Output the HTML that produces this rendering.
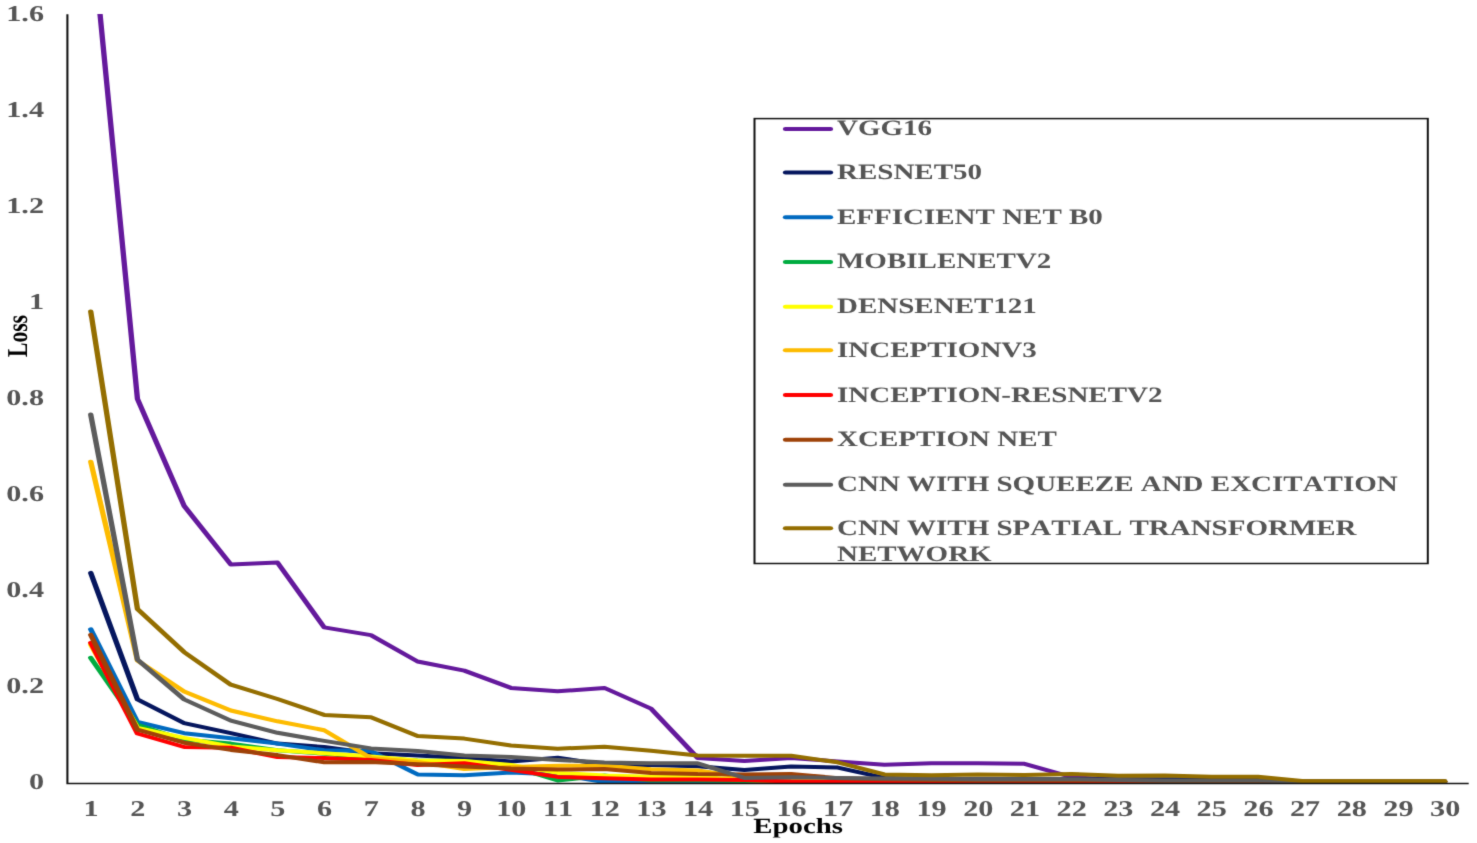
<!DOCTYPE html>
<html><head><meta charset="utf-8"><style>
html,body{margin:0;padding:0;background:#fff;}
svg{display:block;}
text{font-family:"Liberation Serif",serif;font-weight:bold;font-kerning:none;text-rendering:geometricPrecision;}
</style></head><body>
<svg width="1477" height="843" viewBox="0 0 1477 843">
<filter id="bl" x="0" y="0" width="1477" height="843" filterUnits="userSpaceOnUse" color-interpolation-filters="sRGB"><feConvolveMatrix order="3" kernelMatrix="0.0144 0.0912 0.0144 0.0912 0.5776 0.0912 0.0144 0.0912 0.0144" edgeMode="duplicate"/></filter>
<rect width="1477" height="843" fill="#fff"/>
<g filter="url(#bl)">

<text transform="translate(44.0,789.06) scale(1.337,1)" text-anchor="end" font-size="22.6" fill="#555555">0</text>
<text transform="translate(44.0,693.01) scale(1.337,1)" text-anchor="end" font-size="22.6" fill="#555555">0.2</text>
<text transform="translate(44.0,596.96) scale(1.337,1)" text-anchor="end" font-size="22.6" fill="#555555">0.4</text>
<text transform="translate(44.0,500.91) scale(1.337,1)" text-anchor="end" font-size="22.6" fill="#555555">0.6</text>
<text transform="translate(44.0,404.86) scale(1.337,1)" text-anchor="end" font-size="22.6" fill="#555555">0.8</text>
<text transform="translate(44.0,308.81) scale(1.337,1)" text-anchor="end" font-size="22.6" fill="#555555">1</text>
<text transform="translate(44.0,212.76) scale(1.337,1)" text-anchor="end" font-size="22.6" fill="#555555">1.2</text>
<text transform="translate(44.0,116.71) scale(1.337,1)" text-anchor="end" font-size="22.6" fill="#555555">1.4</text>
<text transform="translate(44.0,20.66) scale(1.337,1)" text-anchor="end" font-size="22.6" fill="#555555">1.6</text>
<text transform="translate(91.15,815.8) scale(1.337,1)" text-anchor="middle" font-size="22.6" fill="#555555">1</text>
<text transform="translate(137.84,815.8) scale(1.337,1)" text-anchor="middle" font-size="22.6" fill="#555555">2</text>
<text transform="translate(184.53,815.8) scale(1.337,1)" text-anchor="middle" font-size="22.6" fill="#555555">3</text>
<text transform="translate(231.22,815.8) scale(1.337,1)" text-anchor="middle" font-size="22.6" fill="#555555">4</text>
<text transform="translate(277.90,815.8) scale(1.337,1)" text-anchor="middle" font-size="22.6" fill="#555555">5</text>
<text transform="translate(324.59,815.8) scale(1.337,1)" text-anchor="middle" font-size="22.6" fill="#555555">6</text>
<text transform="translate(371.28,815.8) scale(1.337,1)" text-anchor="middle" font-size="22.6" fill="#555555">7</text>
<text transform="translate(417.97,815.8) scale(1.337,1)" text-anchor="middle" font-size="22.6" fill="#555555">8</text>
<text transform="translate(464.66,815.8) scale(1.337,1)" text-anchor="middle" font-size="22.6" fill="#555555">9</text>
<text transform="translate(511.35,815.8) scale(1.337,1)" text-anchor="middle" font-size="22.6" fill="#555555">10</text>
<text transform="translate(558.04,815.8) scale(1.337,1)" text-anchor="middle" font-size="22.6" fill="#555555">11</text>
<text transform="translate(604.73,815.8) scale(1.337,1)" text-anchor="middle" font-size="22.6" fill="#555555">12</text>
<text transform="translate(651.42,815.8) scale(1.337,1)" text-anchor="middle" font-size="22.6" fill="#555555">13</text>
<text transform="translate(698.11,815.8) scale(1.337,1)" text-anchor="middle" font-size="22.6" fill="#555555">14</text>
<text transform="translate(744.80,815.8) scale(1.337,1)" text-anchor="middle" font-size="22.6" fill="#555555">15</text>
<text transform="translate(791.49,815.8) scale(1.337,1)" text-anchor="middle" font-size="22.6" fill="#555555">16</text>
<text transform="translate(838.18,815.8) scale(1.337,1)" text-anchor="middle" font-size="22.6" fill="#555555">17</text>
<text transform="translate(884.87,815.8) scale(1.337,1)" text-anchor="middle" font-size="22.6" fill="#555555">18</text>
<text transform="translate(931.56,815.8) scale(1.337,1)" text-anchor="middle" font-size="22.6" fill="#555555">19</text>
<text transform="translate(978.25,815.8) scale(1.337,1)" text-anchor="middle" font-size="22.6" fill="#555555">20</text>
<text transform="translate(1024.95,815.8) scale(1.337,1)" text-anchor="middle" font-size="22.6" fill="#555555">21</text>
<text transform="translate(1071.63,815.8) scale(1.337,1)" text-anchor="middle" font-size="22.6" fill="#555555">22</text>
<text transform="translate(1118.33,815.8) scale(1.337,1)" text-anchor="middle" font-size="22.6" fill="#555555">23</text>
<text transform="translate(1165.02,815.8) scale(1.337,1)" text-anchor="middle" font-size="22.6" fill="#555555">24</text>
<text transform="translate(1211.71,815.8) scale(1.337,1)" text-anchor="middle" font-size="22.6" fill="#555555">25</text>
<text transform="translate(1258.40,815.8) scale(1.337,1)" text-anchor="middle" font-size="22.6" fill="#555555">26</text>
<text transform="translate(1305.09,815.8) scale(1.337,1)" text-anchor="middle" font-size="22.6" fill="#555555">27</text>
<text transform="translate(1351.78,815.8) scale(1.337,1)" text-anchor="middle" font-size="22.6" fill="#555555">28</text>
<text transform="translate(1398.47,815.8) scale(1.337,1)" text-anchor="middle" font-size="22.6" fill="#555555">29</text>
<text transform="translate(1445.16,815.8) scale(1.337,1)" text-anchor="middle" font-size="22.6" fill="#555555">30</text>
<text transform="translate(798.2,833) scale(1.335,1)" text-anchor="middle" font-size="21.6" fill="#000">Epochs</text>
<text transform="translate(27.2,336) rotate(-90) scale(1,1.335)" text-anchor="middle" font-size="21.6" fill="#000">Loss</text>
<g transform="scale(1.335,1)">
<defs><clipPath id="pa"><rect x="50.187" y="14.1" width="1050.187" height="772"/></clipPath></defs>
<g clip-path="url(#pa)" fill="none" stroke-width="4.0" stroke-linejoin="round" stroke-linecap="round">
<polyline stroke="#64199C" points="67.97,-81.5 102.95,398.8 137.92,505.9 172.90,564.5 207.87,562.6 242.84,627.4 277.82,635.1 312.79,661.5 347.76,670.6 382.74,687.9 417.71,691.3 452.69,687.9 487.66,708.6 522.63,758.0 557.61,760.9 592.58,758.0 627.55,761.4 662.53,764.8 697.50,763.3 732.48,763.3 767.45,763.8 802.42,777.0 837.40,780.1 872.37,780.6 907.34,781.1 942.32,781.1 977.29,781.6 1012.27,781.6 1047.24,781.6 1082.21,781.6"/>
<polyline stroke="#05165E" points="67.97,572.9 102.95,699.4 137.92,723.1 172.90,733.1 207.87,743.6 242.84,747.0 277.82,753.2 312.79,755.6 347.76,758.0 382.74,761.6 417.71,757.7 452.69,764.8 487.66,765.0 522.63,766.2 557.61,770.0 592.58,766.4 627.55,767.6 662.53,777.9 697.50,779.2 732.48,779.2 767.45,779.2 802.42,779.2 837.40,779.2 872.37,779.3 907.34,779.3 942.32,779.3 977.29,781.6 1012.27,781.6 1047.24,781.6 1082.21,781.6"/>
<polyline stroke="#006AC0" points="67.97,629.3 102.95,722.0 137.92,733.2 172.90,738.3 207.87,743.6 242.84,750.3 277.82,751.1 312.79,774.4 347.76,775.3 382.74,772.4 417.71,774.5 452.69,782.0 487.66,782.0 522.63,782.0 557.61,782.0 592.58,782.0 627.55,782.0 662.53,782.0 697.50,782.0 732.48,782.0 767.45,782.0 802.42,782.0 837.40,782.0 872.37,782.0 907.34,782.0 942.32,782.0 977.29,782.0 1012.27,782.0 1047.24,782.0 1082.21,782.0"/>
<polyline stroke="#00AC40" points="67.97,657.8 102.95,724.9 137.92,739.8 172.90,743.6 207.87,750.3 242.84,753.7 277.82,758.0 312.79,760.4 347.76,760.9 382.74,766.2 417.71,780.5 452.69,775.6 487.66,780.6 522.63,780.6 557.61,781.1 592.58,781.6 627.55,781.6 662.53,781.6 697.50,781.6 732.48,781.6 767.45,781.6 802.42,781.6 837.40,781.6 872.37,781.6 907.34,781.6 942.32,781.6 977.29,781.6 1012.27,781.6 1047.24,781.6 1082.21,781.6"/>
<polyline stroke="#FFFF00" points="67.97,644.7 102.95,727.8 137.92,737.9 172.90,746.5 207.87,750.3 242.84,753.2 277.82,756.6 312.79,760.4 347.76,760.9 382.74,765.0 417.71,772.9 452.69,775.6 487.66,776.8 522.63,776.8 557.61,780.1 592.58,781.1 627.55,781.6 662.53,781.6 697.50,781.6 732.48,781.6 767.45,781.6 802.42,781.6 837.40,781.6 872.37,781.6 907.34,781.6 942.32,781.6 977.29,781.6 1012.27,781.6 1047.24,781.6 1082.21,781.6"/>
<polyline stroke="#FDBB00" points="67.97,461.7 102.95,660.5 137.92,691.5 172.90,710.5 207.87,721.3 242.84,730.2 277.82,758.0 312.79,761.9 347.76,769.1 382.74,767.0 417.71,765.8 452.69,765.8 487.66,769.3 522.63,770.5 557.61,777.2 592.58,778.7 627.55,780.6 662.53,781.1 697.50,781.6 732.48,781.6 767.45,781.6 802.42,781.6 837.40,781.6 872.37,781.6 907.34,781.6 942.32,781.6 977.29,781.6 1012.27,781.6 1047.24,781.6 1082.21,781.6"/>
<polyline stroke="#FF0000" points="67.97,642.8 102.95,733.5 137.92,747.0 172.90,747.7 207.87,757.1 242.84,758.0 277.82,759.9 312.79,765.0 347.76,763.3 382.74,769.7 417.71,776.9 452.69,778.3 487.66,779.6 522.63,779.4 557.61,779.9 592.58,781.6 627.55,782.0 662.53,782.0 697.50,782.0 732.48,782.0 767.45,782.0 802.42,782.0 837.40,782.0 872.37,782.0 907.34,782.0 942.32,782.0 977.29,782.0 1012.27,782.0 1047.24,782.0 1082.21,782.0"/>
<polyline stroke="#9E4208" points="67.97,634.9 102.95,729.7 137.92,742.7 172.90,749.9 207.87,755.1 242.84,762.3 277.82,761.9 312.79,764.3 347.76,766.4 382.74,768.4 417.71,769.6 452.69,769.1 487.66,772.9 522.63,774.1 557.61,774.5 592.58,773.9 627.55,778.2 662.53,779.2 697.50,780.1 732.48,780.6 767.45,780.6 802.42,780.6 837.40,780.6 872.37,781.1 907.34,781.1 942.32,781.1 977.29,781.6 1012.27,781.6 1047.24,781.6 1082.21,781.6"/>
<polyline stroke="#5C5C5C" points="67.97,414.6 102.95,659.6 137.92,699.4 172.90,720.6 207.87,732.8 242.84,740.9 277.82,748.4 312.79,751.1 347.76,755.6 382.74,757.1 417.71,759.9 452.69,762.6 487.66,763.3 522.63,763.3 557.61,777.9 592.58,777.2 627.55,777.9 662.53,778.5 697.50,778.7 732.48,779.2 767.45,779.2 802.42,779.2 837.40,780.1 872.37,780.6 907.34,780.6 942.32,780.6 977.29,781.6 1012.27,781.6 1047.24,781.6 1082.21,781.6"/>
<polyline stroke="#946E00" points="67.97,311.4 102.95,609.1 137.92,652.1 172.90,684.7 207.87,699.0 242.84,714.9 277.82,717.2 312.79,735.9 347.76,738.6 382.74,745.5 417.71,748.7 452.69,746.7 487.66,750.8 522.63,755.6 557.61,755.8 592.58,755.8 627.55,762.3 662.53,774.4 697.50,775.3 732.48,774.4 767.45,775.1 802.42,773.9 837.40,775.8 872.37,775.5 907.34,776.8 942.32,776.8 977.29,781.3 1012.27,781.3 1047.24,781.3 1082.21,781.3"/>
</g>
<path d="M50.487 14.3 V783.4 H1100.150" fill="none" stroke="#111" stroke-width="1.55"/>
<rect x="565.169" y="118.6" width="504.345" height="444.9" fill="#fff" stroke="#111" stroke-width="1.5"/>
<line x1="588.390" y1="129.0" x2="622.097" y2="129.0" stroke="#64199C" stroke-width="4.0" stroke-linecap="round"/>
<line x1="588.390" y1="172.4" x2="622.097" y2="172.4" stroke="#05165E" stroke-width="4.0" stroke-linecap="round"/>
<line x1="588.390" y1="217.2" x2="622.097" y2="217.2" stroke="#006AC0" stroke-width="4.0" stroke-linecap="round"/>
<line x1="588.390" y1="262.0" x2="622.097" y2="262.0" stroke="#00AC40" stroke-width="4.0" stroke-linecap="round"/>
<line x1="588.390" y1="306.8" x2="622.097" y2="306.8" stroke="#FFFF00" stroke-width="4.0" stroke-linecap="round"/>
<line x1="588.390" y1="350.2" x2="622.097" y2="350.2" stroke="#FDBB00" stroke-width="4.0" stroke-linecap="round"/>
<line x1="588.390" y1="395.0" x2="622.097" y2="395.0" stroke="#FF0000" stroke-width="4.0" stroke-linecap="round"/>
<line x1="588.390" y1="439.7" x2="622.097" y2="439.7" stroke="#9E4208" stroke-width="4.0" stroke-linecap="round"/>
<line x1="588.390" y1="484.7" x2="622.097" y2="484.7" stroke="#5C5C5C" stroke-width="4.0" stroke-linecap="round"/>
<line x1="588.390" y1="528.2" x2="622.097" y2="528.2" stroke="#946E00" stroke-width="4.0" stroke-linecap="round"/>
</g>
<text transform="translate(837,134.75) scale(1.318,1)" font-size="22.0" fill="#555555">VGG16</text>
<text transform="translate(837,179.22) scale(1.318,1)" font-size="22.0" fill="#555555">RESNET50</text>
<text transform="translate(837,223.69) scale(1.318,1)" font-size="22.0" fill="#555555">EFFICIENT NET B0</text>
<text transform="translate(837,268.16) scale(1.318,1)" font-size="22.0" fill="#555555">MOBILENETV2</text>
<text transform="translate(837,312.63) scale(1.318,1)" font-size="22.0" fill="#555555">DENSENET121</text>
<text transform="translate(837,357.10) scale(1.318,1)" font-size="22.0" fill="#555555">INCEPTIONV3</text>
<text transform="translate(837,401.57) scale(1.318,1)" font-size="22.0" fill="#555555">INCEPTION-RESNETV2</text>
<text transform="translate(837,446.04) scale(1.318,1)" font-size="22.0" fill="#555555">XCEPTION NET</text>
<text transform="translate(837,490.51) scale(1.318,1)" font-size="22.0" fill="#555555">CNN WITH SQUEEZE AND EXCITATION</text>
<text transform="translate(837,534.98) scale(1.318,1)" font-size="22.0" fill="#555555">CNN WITH SPATIAL TRANSFORMER</text>
<text transform="translate(837,560.98) scale(1.318,1)" font-size="22.0" fill="#555555">NETWORK</text>
</g></svg></body></html>
